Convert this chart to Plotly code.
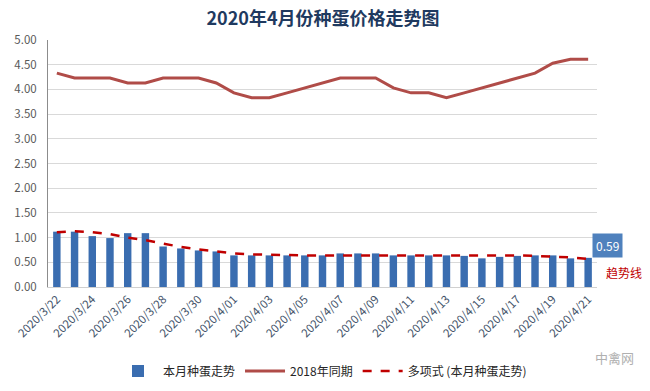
import plotly.graph_objects as go

dates = ["2020/3/22", "2020/3/23", "2020/3/24", "2020/3/25", "2020/3/26", "2020/3/27",
         "2020/3/28", "2020/3/29", "2020/3/30", "2020/3/31", "2020/4/01", "2020/4/02",
         "2020/4/03", "2020/4/04", "2020/4/05", "2020/4/06", "2020/4/07", "2020/4/08",
         "2020/4/09", "2020/4/10", "2020/4/11", "2020/4/12", "2020/4/13", "2020/4/14",
         "2020/4/15", "2020/4/16", "2020/4/17", "2020/4/18", "2020/4/19", "2020/4/20",
         "2020/4/21"]

this_month = [1.12, 1.12, 1.03, 0.99, 1.09, 1.09, 0.82, 0.78, 0.74, 0.72, 0.64, 0.64,
              0.64, 0.64, 0.64, 0.64, 0.68, 0.68, 0.68, 0.64, 0.64, 0.64, 0.64, 0.63,
              0.58, 0.61, 0.63, 0.64, 0.64, 0.58, 0.59]

same_2018 = [4.33, 4.23, 4.23, 4.23, 4.13, 4.13, 4.23, 4.23, 4.23, 4.13, 3.93, 3.83,
             3.83, 3.93, 4.03, 4.13, 4.23, 4.23, 4.23, 4.03, 3.93, 3.93, 3.83, 3.93,
             4.03, 4.13, 4.23, 4.33, 4.53, 4.61, 4.61]

trend = [1.11, 1.13, 1.11, 1.07, 1.00, 0.95, 0.88, 0.81, 0.76, 0.72, 0.68, 0.66,
         0.65, 0.64, 0.64, 0.64, 0.64, 0.65, 0.65, 0.65, 0.65, 0.64, 0.64, 0.64,
         0.64, 0.64, 0.64, 0.63, 0.62, 0.60, 0.57]

tick_labels = dates[::2]

FONT = "Noto Sans CJK SC, Open Sans, sans-serif"

fig = go.Figure()
fig.add_trace(go.Bar(x=dates, y=this_month, name="本月种蛋走势",
                     marker=dict(color="#3a6db0", line=dict(width=0))))
fig.add_trace(go.Scatter(x=dates, y=same_2018, name="2018年同期", mode="lines",
                         line=dict(color="#b04c48", width=3)))
fig.add_trace(go.Scatter(x=dates, y=trend, name="多项式 (本月种蛋走势)", mode="lines",
                         line=dict(color="#c00000", width=2.5, dash="dash")))

fig.update_layout(
    width=650, height=391,
    margin=dict(l=48, r=53, t=40, b=104, autoexpand=False),
    paper_bgcolor="white", plot_bgcolor="white",
    font=dict(family=FONT, size=11, color="#595959"),
    title=dict(text="<b>2020年4月份种蛋价格走势图</b>", x=0.497, xanchor="center",
               y=0.953, yanchor="middle",
               font=dict(family=FONT, size=18, color="#1f3a60")),
    bargap=0.58,
    showlegend=True,
    legend=dict(orientation="h", x=0.5, xanchor="center", y=-0.34, yanchor="middle",
                font=dict(family=FONT, size=12, color="#262626"),
                itemwidth=40),
)

fig.update_xaxes(
    type="category", automargin=False,
    range=[-0.5, len(dates) - 0.5], autorange=False,
    tickmode="array", tickvals=tick_labels, ticktext=tick_labels,
    tickangle=-45,
    tickfont=dict(family=FONT, size=11.5, color="#44546a"),
    showline=True, linecolor="#d0d0d0", linewidth=1,
    showgrid=False, ticks="",
)
fig.update_yaxes(
    range=[0, 5], dtick=0.5, tickformat=".2f", automargin=False,
    tickfont=dict(family=FONT, size=11.5, color="#595959"),
    showgrid=True, gridcolor="#d9d9d9", gridwidth=1,
    showline=True, linecolor="#8c8c8c", linewidth=1,
    zeroline=False, ticks="", ticklabelstandoff=8,
)

fig.add_annotation(x=dates[-1], y=this_month[-1], text="0.59", showarrow=False,
                   xshift=19, yshift=12, bgcolor="#4f81bd",
                   font=dict(family=FONT, size=12, color="white"),
                   borderpad=3)
fig.add_annotation(xref="paper", yref="paper", x=1.0, y=0.057, text="趋势线",
                   showarrow=False, xanchor="right", yanchor="middle", xshift=47,
                   font=dict(family=FONT, size=12, color="#c00000"))
fig.add_annotation(xref="paper", yref="paper", x=1.0, y=-0.287, text="中禽网",
                   showarrow=False, xanchor="center", yanchor="middle", xshift=17,
                   font=dict(family=FONT, size=13, color="#b0b0b0"))

fig.write_html("out.html",
               config={"displayModeBar": False},
               post_script="document.body.style.margin='0px';"
                           "document.body.style.overflow='hidden';")
